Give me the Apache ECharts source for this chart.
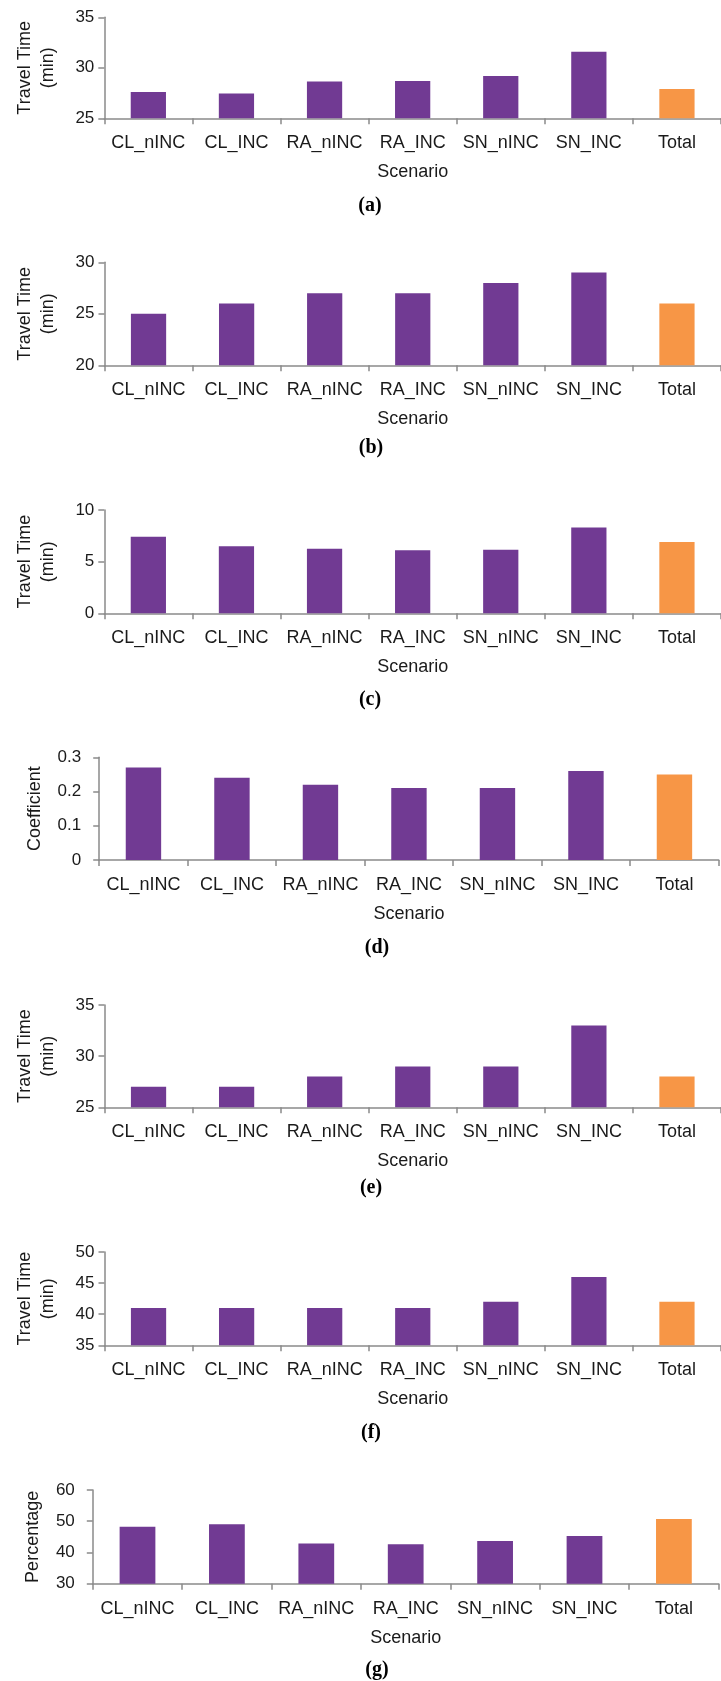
<!DOCTYPE html>
<html>
<head>
<meta charset="utf-8">
<script src="https://cdn.jsdelivr.net/npm/echarts@6/dist/echarts.min.js"></script>
<style>
html,body{margin:0;padding:0;background:#fff;}
#chart{width:721px;height:1681px;}
</style>
</head>
<body>
<div id="chart"></div>
<script>
// ---- data ----
const categories = ['CL_nINC','CL_INC','RA_nINC','RA_INC','SN_nINC','SN_INC','Total'];
const valuesA = [27.6, 27.45, 28.65, 28.7, 29.2, 31.6, 27.9];
const valuesB = [25, 26, 27, 27, 28, 29, 26];
const valuesC = [7.4, 6.5, 6.25, 6.1, 6.15, 8.3, 6.9];
const valuesD = [0.27, 0.24, 0.22, 0.21, 0.21, 0.26, 0.25];
const valuesE = [27, 27, 28, 29, 29, 33, 28];
const valuesF = [41, 41, 41, 41, 42, 46, 42];
const valuesG = [48.2, 49.0, 42.9, 42.6, 43.7, 45.3, 50.7];
// y-axis tick ranges [min, max, interval]
const ticksA = [25, 35, 5];
const ticksB = [20, 30, 5];
const ticksC = [0, 10, 5];
const ticksD = [0, 0.3, 0.1];
const ticksE = [25, 35, 5];
const ticksF = [35, 50, 5];
const ticksG = [30, 60, 10];
const yNames = ['Travel Time\n(min)','Travel Time\n(min)','Travel Time\n(min)','Coefficient','Travel Time\n(min)','Travel Time\n(min)','Percentage'];
const captions = ['(a)','(b)','(c)','(d)','(e)','(f)','(g)'];
const xName = 'Scenario';

// ---- layout / style ----
const PURPLE = '#713A93';
const ORANGE = '#F79646';
const AXIS = '#8a8a8a';
const TXT = '#1a1a1a';
const FONT = '"Liberation Sans", Arial, sans-serif';

const panels = [
  {vals: valuesA, t: ticksA, left: 104.3, top: 17.3, h: 101, band: 89.5, lm: 10, ng: 45, cap: [370, 206]},
  {vals: valuesB, t: ticksB, left: 104.5, top: 262.3, h: 103, band: 89.5, lm: 10, ng: 45, cap: [371, 448]},
  {vals: valuesC, t: ticksC, left: 104.3, top: 510, h: 103.3, band: 89.5, lm: 10, ng: 45, cap: [370, 700]},
  {vals: valuesD, t: ticksD, left: 99.2, top: 757.3, h: 102.7, band: 88.5, lm: 18, ng: 53, cap: [377, 948]},
  {vals: valuesE, t: ticksE, left: 104.5, top: 1005, h: 102.3, band: 89.5, lm: 10, ng: 45, cap: [371, 1188]},
  {vals: valuesF, t: ticksF, left: 104.5, top: 1252, h: 93.3, band: 89.5, lm: 10, ng: 45, cap: [371, 1433]},
  {vals: valuesG, t: ticksG, left: 92.8, top: 1490, h: 93.7, band: 89.4, lm: 18, ng: 46, cap: [377, 1670]}
];

const grid = [], xAxis = [], yAxis = [], series = [], graphic = [];
panels.forEach((p, i) => {
  grid.push({left: p.left, top: p.top, width: p.band * categories.length, height: p.h, containLabel: false});
  xAxis.push({
    type: 'category', gridIndex: i, data: categories,
    name: xName, nameLocation: 'middle', nameGap: 45,
    nameTextStyle: {fontFamily: FONT, fontSize: 18, color: TXT},
    axisLine: {lineStyle: {color: AXIS, width: 1.5}},
    axisTick: {show: true, inside: false, length: 6, lineStyle: {color: AXIS, width: 1.5}},
    axisLabel: {interval: 0, margin: 16, fontFamily: FONT, fontSize: 18, color: TXT},
    splitLine: {show: false}
  });
  yAxis.push({
    type: 'value', gridIndex: i, min: p.t[0], max: p.t[1], interval: p.t[2],
    name: yNames[i], nameLocation: 'middle', nameRotate: 90, nameGap: p.ng,
    nameTextStyle: {fontFamily: FONT, fontSize: 18, color: TXT, lineHeight: 23},
    axisLine: {show: true, lineStyle: {color: AXIS, width: 1.5}},
    axisTick: {show: true, inside: false, length: 6, lineStyle: {color: AXIS, width: 1.5}},
    axisLabel: {margin: p.lm, fontFamily: FONT, fontSize: 17, color: TXT},
    splitLine: {show: false}
  });
  series.push({
    type: 'bar', xAxisIndex: i, yAxisIndex: i, data: p.vals, barWidth: '40%',
    itemStyle: {color: (d) => categories[d.dataIndex] === 'Total' ? ORANGE : PURPLE},
    animation: false
  });
  graphic.push({
    type: 'text', x: p.cap[0], y: p.cap[1],
    style: {text: captions[i], fill: '#000', font: 'bold 20px "Liberation Serif", "Times New Roman", serif',
            textAlign: 'center', textVerticalAlign: 'middle'}
  });
});

const chart = echarts.init(document.getElementById('chart'), null, {renderer: 'canvas'});
chart.setOption({
  animation: false,
  backgroundColor: '#fff',
  grid, xAxis, yAxis, series, graphic
});
</script>
</body>
</html>
